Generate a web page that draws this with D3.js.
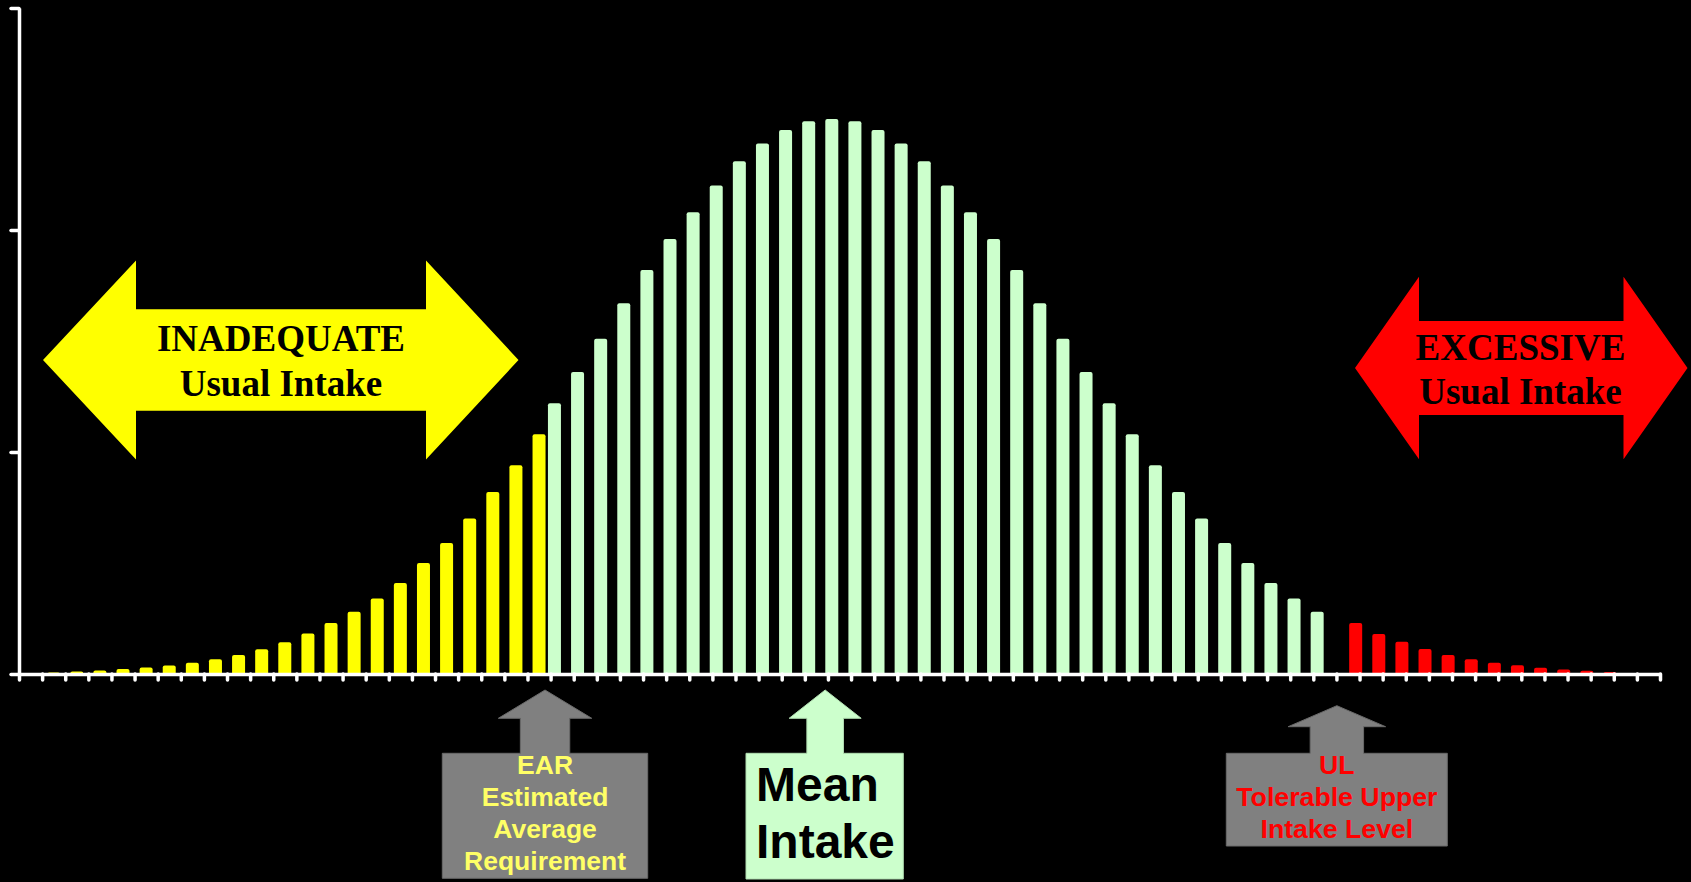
<!DOCTYPE html>
<html><head><meta charset="utf-8">
<script src="https://cdn.jsdelivr.net/npm/d3@7"></script>
<style>html,body{margin:0;padding:0;background:#000;overflow:hidden}</style>
</head><body><svg id="c" width="1691" height="882"></svg>
<script>
// ---------- DATA ----------
const categories = d3.range(1, 72); // 71 usual-intake levels
const seriesNames = ["adequate", "inadequate", "excessive"]; // slot order inside a category
const yTicks = [0, 1, 2, 3];

const inadequateStart = 1;   // first category of the yellow series
const inadequateValues = [0.005, 0.007, 0.011, 0.016, 0.022, 0.029, 0.038, 0.051, 0.066, 0.086,
  0.112, 0.143, 0.182, 0.23, 0.28, 0.34, 0.41, 0.50, 0.59, 0.70, 0.82, 0.94, 1.08];

const adequateStart = 24;
const adequateValues = [1.22, 1.36, 1.51, 1.67, 1.82, 1.96, 2.08, 2.20, 2.31, 2.39, 2.45, 2.49,
  2.50, 2.49, 2.45, 2.39, 2.31, 2.20, 2.08, 1.96, 1.82, 1.67, 1.51, 1.36, 1.22, 1.08, 0.94,
  0.82, 0.70, 0.59, 0.50, 0.41, 0.34, 0.28];

const excessiveStart = 58;
const excessiveValues = [0.23, 0.18, 0.145, 0.113, 0.086, 0.067, 0.051, 0.039, 0.028, 0.020,
  0.015, 0.009, 0.005];

const rangeLabels = [["INADEQUATE", "Usual Intake"], ["EXCESSIVE", "Usual Intake"]];
const earLabel = ["EAR", "Estimated", "Average", "Requirement"];
const meanLabel = ["Mean", "Intake"];
const ulLabel = ["UL", "Tolerable Upper", "Intake Level"];

// ---------- LAYOUT ----------
const svg = d3.select("#c");
const W = 1691, H = 882;
svg.append("rect").attr("width", W).attr("height", H).attr("fill", "#000");
const plotLeft = 19, plotRight = 1660, plotTop = 8, plotBase = 674;

const x0 = d3.scaleBand().domain(categories).range([plotLeft, plotRight]).padding(0);
const x1 = d3.scaleBand().domain(seriesNames).range([0, x0.bandwidth()]);
const xb = d3.scaleLinear().domain([0, categories.length]).range([plotLeft, plotRight]);
const y = d3.scaleLinear().domain([0, 3]).range([plotBase, plotTop]);
const barW = 13;

const series = [
  {name: "inadequate", start: inadequateStart, values: inadequateValues, color: "#FFFF00"},
  {name: "adequate", start: adequateStart, values: adequateValues, color: "#CCFFCC"},
  {name: "excessive", start: excessiveStart, values: excessiveValues, color: "#FF0000"}
];

series.forEach(s => {
  const data = s.values.map((v, i) => ({c: categories[s.start - 1 + i], v}));
  svg.append("g").selectAll("rect").data(data).join("rect")
    .attr("x", d => x0(d.c) + x1(s.name) + x1.bandwidth() / 2 - barW / 2)
    .attr("y", d => y(d.v))
    .attr("width", barW)
    .attr("height", d => y(0) - y(d.v) + 2)
    .attr("rx", 2)
    .attr("fill", s.color);
});

// axes
const gx = svg.append("g").attr("transform", `translate(0,${plotBase})`)
  .call(d3.axisBottom(xb).tickValues(d3.range(categories.length + 1)).tickSize(6).tickSizeOuter(0).tickFormat(""));
const gy = svg.append("g").attr("transform", `translate(${plotLeft},0)`)
  .call(d3.axisLeft(y).tickValues(yTicks).tickSize(8).tickSizeOuter(0).tickFormat(""));
[gx, gy].forEach(g => {
  g.select(".domain").attr("stroke", "#fff").attr("stroke-width", 3.5);
  g.selectAll(".tick line").attr("stroke", "#fff").attr("stroke-width", 3.5).attr("stroke-linecap", "round");
});

// ---------- ANNOTATIONS ----------
function dblArrow(xl, xr, yc, headL, headR, headH, shaftH, color) {
  const p = d3.path();
  p.moveTo(xl, yc);
  p.lineTo(xl + headL, yc - headH);
  p.lineTo(xl + headL, yc - shaftH);
  p.lineTo(xr - headR, yc - shaftH);
  p.lineTo(xr - headR, yc - headH);
  p.lineTo(xr, yc);
  p.lineTo(xr - headR, yc + headH);
  p.lineTo(xr - headR, yc + shaftH);
  p.lineTo(xl + headL, yc + shaftH);
  p.lineTo(xl + headL, yc + headH);
  p.closePath();
  svg.append("path").attr("d", p.toString()).attr("fill", color);
}
function upBox(cx, tipY, headHW, headBase, shaftHW, boxTop, bl, br, bb, color, stroke) {
  const p = d3.path();
  p.moveTo(cx, tipY);
  p.lineTo(cx + headHW, headBase);
  p.lineTo(cx + shaftHW, headBase);
  p.lineTo(cx + shaftHW, boxTop);
  p.lineTo(br, boxTop);
  p.lineTo(br, bb);
  p.lineTo(bl, bb);
  p.lineTo(bl, boxTop);
  p.lineTo(cx - shaftHW, boxTop);
  p.lineTo(cx - shaftHW, headBase);
  p.lineTo(cx - headHW, headBase);
  p.closePath();
  svg.append("path").attr("d", p.toString()).attr("fill", color)
    .attr("stroke", stroke).attr("stroke-width", 1);
}
function lines(txt, x, ys, size, fam, color, anchor) {
  txt.forEach((t, i) => svg.append("text").attr("x", x).attr("y", ys[i])
    .attr("text-anchor", anchor || "middle").attr("font-family", fam)
    .attr("font-weight", "bold").attr("font-size", size).attr("fill", color).text(t));
}
const serif = "'Liberation Serif','Times New Roman',serif";
const sans = "'Liberation Sans',Arial,sans-serif";

dblArrow(43, 518.5, 360, 93, 92.5, 99.5, 50.7, "#FFFF00");
lines(rangeLabels[0], 281, [351, 396], 37, serif, "#000");
dblArrow(1355, 1687.5, 368, 64, 64, 91.3, 47, "#FF0000");
lines(rangeLabels[1], 1520.5, [360, 404], 37, serif, "#000");

const earX = xb(22.76), meanX = xb(34.88), ulX = xb(57.02);
upBox(earX, 690, 46.7, 718.3, 24.7, 753.3, 442.3, 647.7, 878.3, "#808080", "#6a6a6a");
lines(earLabel, earX, [774, 806, 838, 870], 26.5, sans, "#FFFF66");
upBox(meanX, 690, 36, 718.3, 18.3, 753.3, 746, 903.3, 879, "#CCFFCC", "#b0dcb0");
lines(meanLabel, 756, [801, 858], 48, sans, "#000", "start");
upBox(ulX, 705.7, 48.7, 726.7, 26.7, 753.3, 1226.3, 1447.3, 846, "#808080", "#6a6a6a");
lines(ulLabel, ulX, [773.5, 805.5, 837.5], 26.7, sans, "#FF0000");
</script></body></html>
